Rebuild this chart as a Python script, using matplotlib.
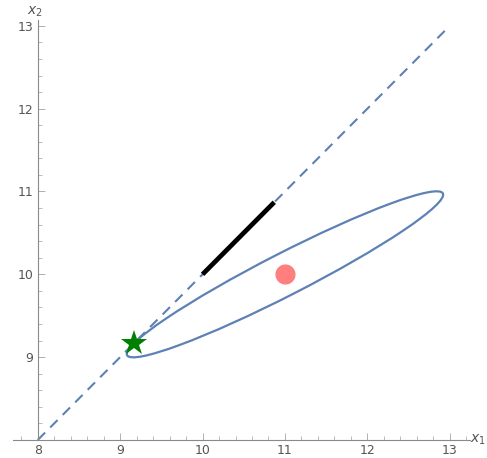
import numpy as np
import matplotlib.pyplot as plt
from matplotlib.patches import Ellipse
from matplotlib.ticker import MultipleLocator

# data
line_x = [8, 13]
line_y = [8, 13]
segment_x = [10.0, 10.87]
segment_y = [10.0, 10.87]
center = (11.0, 10.0)
ellipse_width = 4.3      # full major axis
ellipse_height = 0.51    # full minor axis
ellipse_angle = 27       # degrees
star_x = [9.17]
star_y = [9.17]

blue = '#5E81B5'
gray = '#8a8a8a'

fig = plt.figure(figsize=(4.87, 4.58), dpi=100)
ax = fig.add_axes([13 / 487, 18 / 458, 457 / 487, 420 / 458])
ax.set_xlim(7.70, 13.245)
ax.set_ylim(8.0, 13.07)

ax.plot(line_x, line_y, color=blue, lw=1.5, linestyle=(0, (5, 3.5)), zorder=2)
ax.add_patch(Ellipse(center, ellipse_width, ellipse_height, angle=ellipse_angle,
                     fill=False, edgecolor=blue, lw=1.6, zorder=3))
ax.plot(segment_x, segment_y, color='black', lw=3.4, solid_capstyle='butt', zorder=4)
ax.plot([center[0]], [center[1]], 'o', color='#FF7F7F', markersize=14.5,
        markeredgewidth=0, zorder=5)
ax.plot(star_x, star_y, '*', color='#008000', markersize=19, markeredgewidth=0, zorder=6)

# Mathematica-like axes crossing at (8, 8)
for side in ['top', 'right']:
    ax.spines[side].set_visible(False)
ax.spines['left'].set_position(('data', 8))
ax.spines['bottom'].set_position(('data', 8))
ax.spines['left'].set_color(gray)
ax.spines['bottom'].set_color(gray)
ax.spines['left'].set_linewidth(0.8)
ax.spines['bottom'].set_linewidth(0.8)

ax.set_xticks([8, 9, 10, 11, 12, 13])
ax.set_yticks([9, 10, 11, 12, 13])
ax.xaxis.set_minor_locator(MultipleLocator(0.2))
ax.yaxis.set_minor_locator(MultipleLocator(0.2))
ax.tick_params(which='major', direction='in', length=5, width=0.7, color='#b0b0b0',
               labelsize=9, labelcolor='#555555', pad=3)
ax.tick_params(which='minor', direction='in', length=3, width=0.6, color='#b0b0b0')

# axis labels; x1 pulled in so it is not clipped at the right edge
fig.text(0.998, 1 - 440 / 458, '$x_1$', color='#555555', fontsize=10,
         ha='right', va='center')
ax.text(7.97, 13.17, '$x_2$', color='#555555', fontsize=10, ha='center', va='center',
        clip_on=False)

fig.savefig('out.png', dpi=100)
